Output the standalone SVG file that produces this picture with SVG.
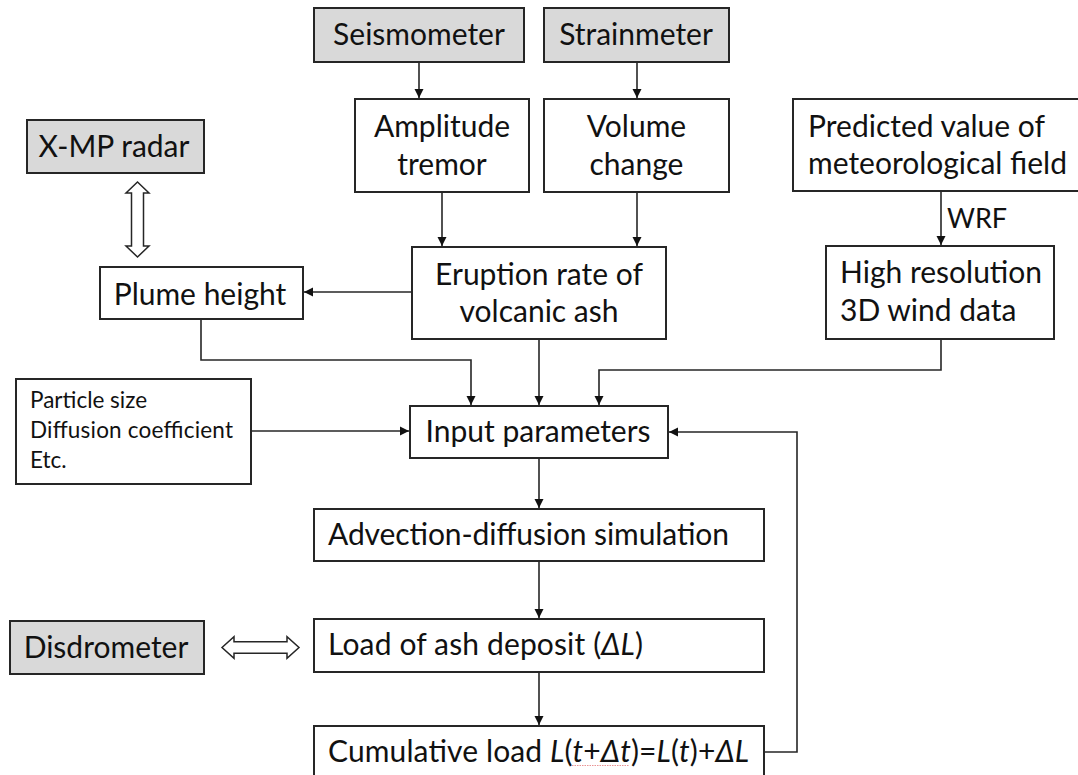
<svg xmlns="http://www.w3.org/2000/svg" width="1078" height="775" viewBox="0 0 1078 775">
  <style>
    .box { fill: #ffffff; stroke: #262626; stroke-width: 2; }
    .src { fill: #d9d9d9; stroke: #262626; stroke-width: 2; }
    .t { font-family: Lato, "Open Sans", sans-serif; font-size: 30px; fill: #111111; }
    .s { font-family: Lato, "Open Sans", sans-serif; font-size: 22.5px; fill: #111111; }
    .lbl { font-family: Lato, "Open Sans", sans-serif; font-size: 27px; fill: #111111; }
    .mid { text-anchor: middle; }
    .it { font-style: italic; }
    .wire { fill: none; stroke: #262626; stroke-width: 1.6; }
    .hollow { fill: #ffffff; stroke: #262626; stroke-width: 1.5; stroke-linejoin: miter; }
    .squiggle { fill: none; stroke: #e06666; stroke-width: 1; stroke-dasharray: 1.5 1; opacity: 0.7; }
  </style>
  <defs>
    <marker id="head" markerWidth="10" markerHeight="10" refX="9" refY="5" orient="auto" markerUnits="userSpaceOnUse">
      <path d="M0,0.5 L9,5 L0,9.5 Z" fill="#111111"/>
    </marker>
  </defs>

  <rect width="1078" height="775" fill="#ffffff"/>

  <!-- connectors -->
  <g id="connectors">
    <line class="wire" x1="419" y1="62" x2="419" y2="98" marker-end="url(#head)"/>
    <line class="wire" x1="637" y1="62" x2="637" y2="98" marker-end="url(#head)"/>
    <line class="wire" x1="442" y1="192" x2="442" y2="246" marker-end="url(#head)"/>
    <line class="wire" x1="637" y1="192" x2="637" y2="246" marker-end="url(#head)"/>
    <line class="wire" x1="941" y1="191" x2="941" y2="245" marker-end="url(#head)"/>
    <text class="lbl" x="947" y="228">WRF</text>
    <line class="wire" x1="412" y1="292" x2="304" y2="292" marker-end="url(#head)"/>
    <polyline class="wire" points="201,319 201,360 471,360 471,405" marker-end="url(#head)"/>
    <line class="wire" x1="539" y1="339" x2="539" y2="405" marker-end="url(#head)"/>
    <polyline class="wire" points="941,339 941,370 599,370 599,405" marker-end="url(#head)"/>
    <line class="wire" x1="251" y1="431" x2="409" y2="431" marker-end="url(#head)"/>
    <line class="wire" x1="539" y1="458" x2="539" y2="508" marker-end="url(#head)"/>
    <line class="wire" x1="539" y1="561" x2="539" y2="618" marker-end="url(#head)"/>
    <line class="wire" x1="539" y1="672" x2="539" y2="725" marker-end="url(#head)"/>
    <polyline class="wire" points="764,752 797,752 797,432 669,432" marker-end="url(#head)"/>
    <!-- two-way exchange arrows with the observation instruments -->
    <polygon class="hollow" points="137.5,182 149,193 143.5,193 143.5,246 149,246 137.5,257 126,246 131.5,246 131.5,193 126,193"/>
    <polygon class="hollow" points="222,647.5 234,636.7 234,641.7 287,641.7 287,636.7 299,647.5 287,658.3 287,653.3 234,653.3 234,658.3"/>
  </g>

  <g id="seismometer">
    <rect class="src" x="314" y="8" width="210" height="54"/>
    <text class="t mid" x="419" y="45">Seismometer</text>
  </g>
  <g id="strainmeter">
    <rect class="src" x="544" y="8" width="185" height="54"/>
    <text class="t mid" x="636" y="45">Strainmeter</text>
  </g>
  <g id="amplitude">
    <rect class="box" x="355" y="99" width="174" height="93"/>
    <text class="t mid" x="442" y="137">Amplitude</text>
    <text class="t mid" x="442" y="175">tremor</text>
  </g>
  <g id="volume">
    <rect class="box" x="544" y="99" width="185" height="93"/>
    <text class="t mid" x="636.5" y="137">Volume</text>
    <text class="t mid" x="636.5" y="175">change</text>
  </g>
  <g id="predicted">
    <rect class="box" x="793" y="99" width="290" height="92"/>
    <text class="t" x="808" y="137">Predicted value of</text>
    <text class="t" x="808" y="174">meteorological field</text>
  </g>
  <g id="xmp-radar">
    <rect class="src" x="27" y="120" width="177" height="53"/>
    <text class="t mid" x="114" y="157">X-MP radar</text>
  </g>
  <g id="eruption">
    <rect class="box" x="412" y="247" width="254" height="92"/>
    <text class="t mid" x="539" y="285">Eruption rate of</text>
    <text class="t mid" x="539" y="322">volcanic ash</text>
  </g>
  <g id="plume">
    <rect class="box" x="100" y="267" width="203" height="52"/>
    <text class="t mid" x="200" y="305">Plume height</text>
  </g>
  <g id="wind">
    <rect class="box" x="826" y="246" width="228" height="93"/>
    <text class="t" x="840" y="283">High resolution</text>
    <text class="t" x="840" y="321">3D wind data</text>
  </g>
  <g id="particle">
    <rect class="box" x="16" y="379" width="235" height="105"/>
    <text class="s" x="30" y="408">Particle size</text>
    <text class="s" x="30" y="438" textLength="203">Diffusion coefficient</text>
    <text class="s" x="30" y="468">Etc.</text>
  </g>
  <g id="input">
    <rect class="box" x="410" y="406" width="258" height="52"/>
    <text class="t mid" x="538" y="442">Input parameters</text>
  </g>
  <g id="advection">
    <rect class="box" x="314" y="509" width="450" height="52"/>
    <text class="t" x="328" y="545" textLength="401">Advection-diffusion simulation</text>
  </g>
  <g id="disdrometer">
    <rect class="src" x="10" y="621" width="194" height="53"/>
    <text class="t mid" x="106" y="658">Disdrometer</text>
  </g>
  <g id="load">
    <rect class="box" x="314" y="619" width="450" height="53"/>
    <text class="t" x="328" y="655" textLength="315">Load of ash deposit (<tspan class="it">ΔL</tspan>)</text>
  </g>
  <g id="cumulative">
    <rect class="box" x="314" y="726" width="450" height="60"/>
    <text class="t" x="328" y="762" textLength="421">Cumulative load <tspan class="it">L</tspan>(<tspan class="it">t</tspan>+<tspan class="it">Δt</tspan>)=<tspan class="it">L</tspan>(<tspan class="it">t</tspan>)+<tspan class="it">ΔL</tspan></text>
    <line class="squiggle" x1="572" y1="765.5" x2="629" y2="765.5"/>
  </g>
</svg>
